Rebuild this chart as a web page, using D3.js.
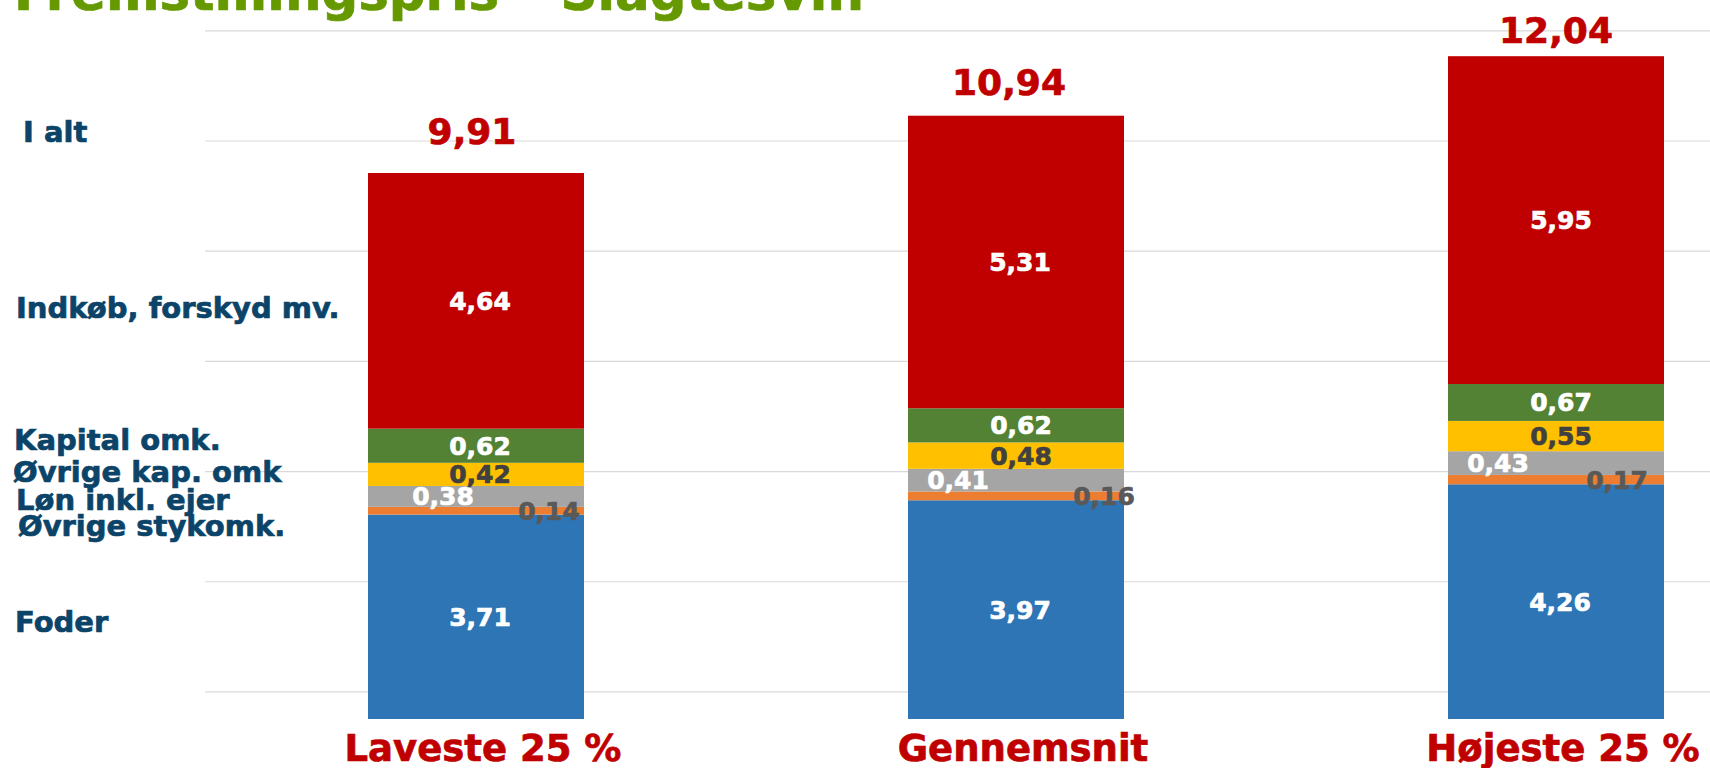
<!DOCTYPE html>
<html>
<head>
<meta charset="utf-8">
<script src="https://cdn.jsdelivr.net/npm/d3@7"></script>
<style>
    body { margin: 0; background: #fff; }
    .container svg { display: block; }
    text { font-family: "DejaVu Sans", Verdana, sans-serif; font-weight: bold; }
    .heavy { stroke-width: 0.7px; }
</style>
</head>
<body>
<div class="container"></div>
<script>
// data
var groups = ["Laveste 25 %", "Gennemsnit", "Højeste 25 %"];
var segmentNames = ["Foder", "Øvrige stykomk.", "Løn inkl. ejer", "Øvrige kap. omk", "Kapital omk.", "Indkøb, forskyd mv."];
var foder = [3.71, 3.97, 4.26];
var stykomk = [0.14, 0.16, 0.17];
var loen = [0.38, 0.41, 0.43];
var kapOmk = [0.42, 0.48, 0.55];
var kapital = [0.62, 0.62, 0.67];
var indkoeb = [4.64, 5.31, 5.95];
var totals = [9.91, 10.94, 12.04];
var gridValues = [0.5, 2.5, 4.5, 6.5, 8.5, 10.5, 12.5];

var width = 1710;
var height = 768;
var colors = ["#2E75B6", "#ED7D31", "#A5A5A5", "#FFC000", "#548235", "#C00000"];
var labelColors = ["#fff", "#595959", "#fff", "#404040", "#fff", "#fff"];
// orange and grey labels are pushed sideways in the original
var labelShift = [
    [4, 4, 4],
    [73, 88, 61],
    [-33, -58, -58],
    [4, 5, 5],
    [4, 5, 5],
    [4, 4, 5]
];
var totalLift = [29, 21, 13];
var totalShift = [-4, -7, 0];
// left side legend text
var leftNames = ["I alt"].concat(segmentNames.slice().reverse());
var leftX = [23, 16, 14, 13, 16, 18, 15];
var leftY = [142, 318, 450, 482, 510, 536, 632];

var svg = d3.select(".container")
    .append("svg")
    .attr("width", width)
    .attr("height", height);

var y = d3.scaleLinear().domain([0, 13.05]).range([719, 0]);
var x = d3.scaleBand().domain(groups).range([206, 1826]).paddingInner(0.6).paddingOuter(0.3);

var comma = d3.formatLocale({decimal: ",", thousands: ".", grouping: [3], currency: ["", " kr"]}).format(".2f");

// grid
var grid = svg.append("g")
    .attr("transform", "translate(205,0)")
    .call(d3.axisLeft(y).tickValues(gridValues).tickSize(-(width - 205)).tickFormat(""));
grid.select(".domain").remove();
grid.selectAll("line").attr("stroke", "#d9d9d9").attr("stroke-width", 1.2);

var rows = groups.map(function(g, i) {
    return {group: g, s0: foder[i], s1: stykomk[i], s2: loen[i], s3: kapOmk[i], s4: kapital[i], s5: indkoeb[i]};
});
var keys = ["s0", "s1", "s2", "s3", "s4", "s5"];
var series = d3.stack().keys(keys)(rows);

var layers = svg.selectAll(".layer")
    .data(series)
    .enter()
    .append("g")
    .attr("class", "layer")
    .attr("fill", function(d, i) { return colors[i]; });

layers.selectAll("rect")
    .data(function(d) { return d; })
    .enter()
    .append("rect")
    .attr("x", function(d) { return x(d.data.group); })
    .attr("width", x.bandwidth())
    .attr("y", function(d) { return y(d[1]); })
    .attr("height", function(d) { return y(d[0]) - y(d[1]); });

// segment labels
series.forEach(function(s, k) {
    svg.append("g").selectAll("text")
        .data(s)
        .enter()
        .append("text")
        .attr("class", "heavy")
        .attr("x", function(d, i) { return x(d.data.group) + x.bandwidth() / 2 + labelShift[k][i]; })
        .attr("y", function(d) { return (y(d[0]) + y(d[1])) / 2; })
        .attr("dy", "0.36em")
        .attr("text-anchor", "middle")
        .attr("font-size", 25)
        .attr("fill", labelColors[k])
        .attr("stroke", labelColors[k])
        .text(function(d) { return comma(d[1] - d[0]); });
});

// totals
svg.append("g").selectAll("text")
    .data(totals)
    .enter()
    .append("text")
    .attr("class", "heavy")
    .attr("x", function(d, i) { return x(groups[i]) + x.bandwidth() / 2 + totalShift[i]; })
    .attr("y", function(d, i) { return y(d) - totalLift[i]; })
    .attr("text-anchor", "middle")
    .attr("font-size", 36)
    .attr("fill", "#C00000")
    .attr("stroke", "#C00000")
    .text(function(d) { return comma(d); });

// category names
svg.append("g").selectAll("text")
    .data(groups)
    .enter()
    .append("text")
    .attr("class", "heavy")
    .attr("x", function(d) { return x(d) + x.bandwidth() / 2 + 7; })
    .attr("y", 761)
    .attr("text-anchor", "middle")
    .attr("font-size", 37)
    .attr("fill", "#C00000")
    .attr("stroke", "#C00000")
    .text(function(d) { return d; });

svg.append("g").selectAll("text")
    .data(leftNames)
    .enter()
    .append("text")
    .attr("class", "heavy")
    .attr("x", function(d, i) { return leftX[i]; })
    .attr("y", function(d, i) { return leftY[i]; })
    .attr("font-size", 29)
    .attr("fill", "#0B4468")
    .attr("stroke", "#0B4468")
    .text(function(d) { return d; });

// title, cut by the top edge
svg.append("text")
    .attr("class", "heavy")
    .attr("x", 14)
    .attr("y", 10)
    .attr("font-size", 51)
    .attr("fill", "#669900")
    .attr("stroke", "#669900")
    .attr("textLength", 850)
    .attr("lengthAdjust", "spacingAndGlyphs")
    .text("Fremstillingspris – Slagtesvin");
</script>
</body>
</html>
